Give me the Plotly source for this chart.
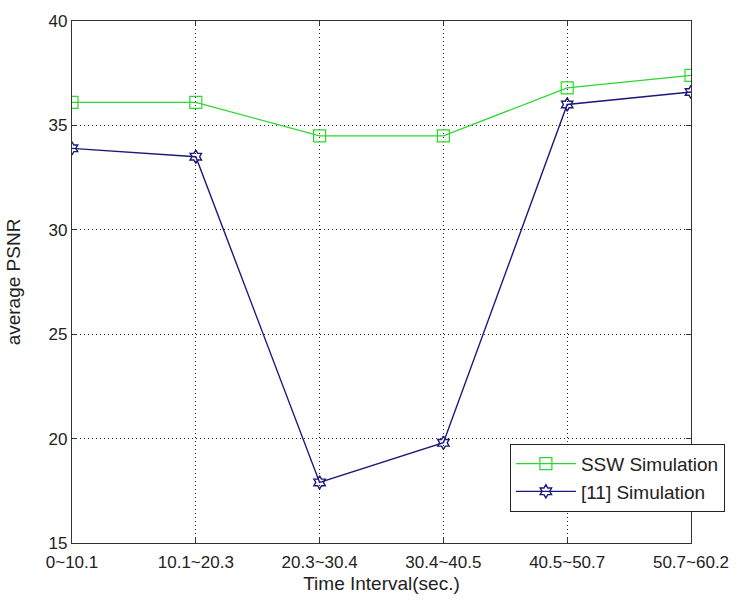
import plotly.graph_objects as go

intervals = ["0~10.1", "10.1~20.3", "20.3~30.4", "30.4~40.5", "40.5~50.7", "50.7~60.2"]
ssw_psnr = [36.1, 36.1, 34.5, 34.5, 36.8, 37.4]
ref11_psnr = [33.9, 33.5, 17.9, 19.8, 36.0, 36.6]
y_ticks = [15, 20, 25, 30, 35, 40]

font_family = "Liberation Sans, Arial, sans-serif"

fig = go.Figure()
fig.add_trace(go.Scatter(
    x=intervals, y=ssw_psnr, name="SSW Simulation",
    mode="lines+markers",
    line=dict(color="#2ed62e", width=1.2),
    marker=dict(symbol="square-open", size=12, color="#2ed62e", line=dict(width=1.2)),
))
fig.add_trace(go.Scatter(
    x=intervals, y=ref11_psnr, name="[11] Simulation",
    mode="lines+markers",
    line=dict(color="#1a1a7a", width=1.4),
    marker=dict(symbol="hexagram-open", size=10, color="#1a1a7a", line=dict(width=1.4)),
))

axis_common = dict(
    showline=True, linecolor="#333333", linewidth=1.3, mirror="allticks",
    ticks="inside", ticklen=5, tickcolor="#333333",
    showgrid=True, gridcolor="#222222", griddash="1px,3px", gridwidth=1.2,
    zeroline=False,
    tickfont=dict(family=font_family, size=17, color="#222222"),
)

fig.update_layout(
    width=741, height=603,
    margin=dict(l=72, r=47, t=18, b=59),
    paper_bgcolor="white", plot_bgcolor="white",
    font=dict(family=font_family, color="#222222"),
    xaxis=dict(
        type="category", categoryorder="array", categoryarray=intervals,
        range=[0, len(intervals) - 1],
        ticklabelstandoff=3,
        title=dict(text="Time Interval(sec.)", font=dict(size=19), standoff=6),
        **axis_common,
    ),
    yaxis=dict(
        range=[15, 40], tickvals=y_ticks,
        title=dict(text="average PSNR", font=dict(size=19), standoff=22),
        **axis_common,
    ),
    legend=dict(
        x=0.7074, y=0.19, xanchor="left", yanchor="top",
        bgcolor="white", bordercolor="#222222", borderwidth=1,
        font=dict(family=font_family, size=19, color="#222222"),
        tracegroupgap=0, itemwidth=60,
    ),
    showlegend=True,
)

fig.write_html("out.html")
